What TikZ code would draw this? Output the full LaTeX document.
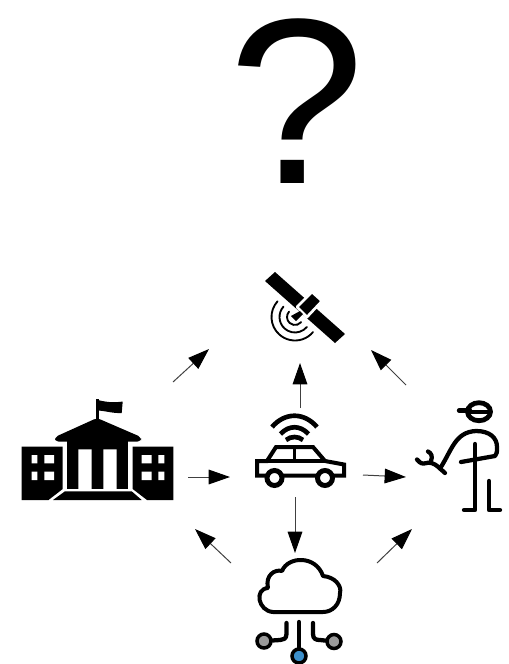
\documentclass[tikz,border=0pt]{standalone}
\usepackage{fontspec}
\setmainfont{Liberation Sans}
\usetikzlibrary{arrows.meta}
\definecolor{dotblue}{HTML}{3C8FCB}
\definecolor{dotgray}{HTML}{9A9A9A}
\tikzset{
  x=0.75pt,y=-0.75pt,
  flow/.style={draw=black!75,line width=0.75pt,-{Triangle[length=16pt,width=11pt,color=black]}},
  ink/.style={draw=black,line width=3.2pt,line cap=round,line join=round},
  wifi/.style={draw=black,line width=3.5pt,line cap=butt},
  thinink/.style={draw=black,line width=1.4pt,line cap=round},
  netdot/.style={circle,draw=black,line width=2.6pt,minimum size=10.5pt,inner sep=0pt},
}
\begin{document}
\begin{tikzpicture}
\useasboundingbox (0,0) rectangle (509,664);
% question mark
\node[inner sep=0pt,anchor=center,xscale=1.04] (question) at (297,101) {\fontsize{177}{177}\selectfont ?};
% satellite
\fill (275,272) -- (265,281) -- (335,343) -- (345,334) -- cycle;
\fill[draw=white,line width=2pt,line join=round] (312,292) -- (322,301) -- (307,317) -- (297,307) -- cycle;
\fill (300,311) -- (303,314) -- (296,321) -- (291,316) -- cycle;
\foreach \r in {8,15.5,23.5}{
  \draw[thinink] (295,317) ++(222:\r) arc[start angle=222,end angle=40,radius=\r];
}
% school
\fill (21.7,446.7) -- (62.7,446.7) -- (62.7,489) -- (48.5,500) -- (21.7,500) -- cycle;
\fill (132.7,446.7) -- (173.3,446.7) -- (173.3,500) -- (147,500) -- (132.7,489) -- cycle;
\fill[rounded corners=2.5pt] (97,418) -- (141,437) -- (141,441.5) -- (55,441.5) -- (55,437) -- cycle;
\fill (66.7,440) rectangle (128.3,489);
\fill (53,500) -- (65,491.3) -- (131.7,491.3) -- (141.7,500) -- cycle;
\fill[white] (78.3,449.3) rectangle (91.7,489) (103.3,449.3) rectangle (116.7,489);
\fill (95.5,399) rectangle (99,420);
\fill (96,399.5) .. controls (105,402) and (113,403) .. (122.7,401.5) -- (121.7,413) .. controls (113,413.5) and (106,411) .. (98,410.5) -- cycle;
\fill[white]
  (31.7,455) rectangle (37.3,463.3) (44.3,455) rectangle (54,463.3)
  (31.7,471.7) rectangle (37.3,480) (44.3,471.7) rectangle (54,480)
  (141.7,455) rectangle (151.7,463.3) (158.3,455) rectangle (164.3,463.3)
  (141.7,471.7) rectangle (151.7,480) (158.3,471.7) rectangle (164.3,480);
% connected car
\draw[wifi] (272,427) .. controls (285,412) and (304,412) .. (317,427);
\draw[wifi] (280.5,434) .. controls (289,425) and (300,425) .. (308.5,434);
\draw[wifi] (286,440) .. controls (291,436) and (298,436) .. (303,440);
\draw[draw=black,line width=3pt,line join=miter]
  (257,461) -- (267,461) -- (276,447) -- (313,447) -- (325,461) -- (344,464.5) -- (344,475.5) -- (257,475.5) -- cycle;
\draw[draw=black,line width=2.6pt] (267,461) -- (325,461) (294.3,447) -- (294.3,461);
\foreach \cx in {274.5,325}{
  \fill[white] (\cx,478) circle[radius=8];
  \draw[draw=black,line width=3.7pt] (\cx,478) circle[radius=7.5];
}
% mechanic
\draw[draw=black,line width=3.6pt] (479,411.7) ellipse[x radius=11.5,y radius=9];
\draw[ink] (459,410.5) -- (470,410.5);
\fill (468,409.5) rectangle (490,413.5);
\draw[ink] (440,468.5) .. controls (452,450) and (455,432) .. (476,431)
  .. controls (490,431) and (497,438) .. (497,447) .. controls (497,452) and (497,454) .. (495,456) -- (461,462);
\draw[ink] (475,444) -- (475,510) -- (464,510);
\draw[ink] (489,481) -- (489,510) -- (500,510);
\draw[ink] (440,468.5) -- (445,473);
\draw[ink] (440,468.5) .. controls (433,462) and (430,462) .. (424,463.5) .. controls (420,464) and (419,461) .. (417,459.5);
\draw[ink] (431,461) .. controls (433,456) and (431,453) .. (428,451.5);
% cloud and network
\draw[draw=black,line width=3pt,line join=round]
  (273,612) .. controls (258,611) and (254,589) .. (268,588)
  .. controls (265,575) and (275,569) .. (282,571)
  .. controls (288,556) and (316,555) .. (323,576)
  .. controls (335,577) and (342,586) .. (340,593)
  .. controls (340,605) and (332,612) .. (323,612) -- cycle;
\node[netdot,fill=dotgray] (left dot) at (264,641) {};
\node[netdot,fill=dotgray] (right dot) at (334,641.5) {};
\node[netdot,fill=dotblue] (blue dot) at (299,656) {};
\coordinate (cloud base) at (299,622);
\coordinate (left top) at (286.5,623);
\coordinate (right top) at (313,623);
\draw[ink] (cloud base) -- (blue dot);
\draw[ink] (left top) -- (286.5,634) .. controls (286.5,639) and (283,640) .. (280,640) -- (left dot);
\draw[ink] (right top) -- (313,634) .. controls (313,639) and (316,640) .. (320,640) -- (right dot);
% arrow ends
\coordinate (a1) at (173,382); \coordinate (b1) at (209,349);
\coordinate (a2) at (300,408); \coordinate (b2) at (300,363);
\coordinate (a3) at (406,385); \coordinate (b3) at (371,350);
\coordinate (a4) at (188,477); \coordinate (b4) at (230,477);
\coordinate (a5) at (363,475); \coordinate (b5) at (406,477);
\coordinate (a6) at (295,497); \coordinate (b6) at (295,553);
\coordinate (a7) at (231,563); \coordinate (b7) at (195,529);
\coordinate (a8) at (377,563); \coordinate (b8) at (412,529);
\foreach \i in {1,...,8}{ \draw[flow] (a\i) -- (b\i); }
\end{tikzpicture}
\end{document}
